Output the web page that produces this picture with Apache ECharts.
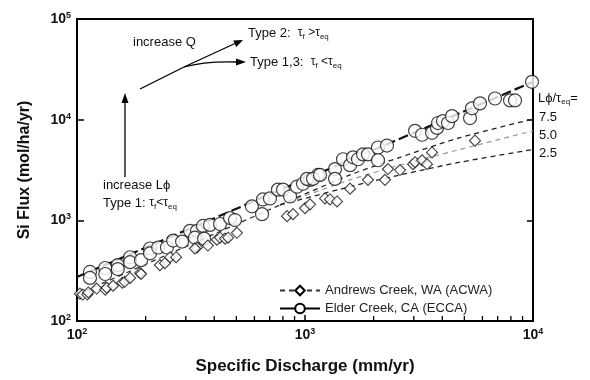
<!DOCTYPE html>
<html>
<head>
<meta charset="utf-8">
<script src="https://cdn.jsdelivr.net/npm/echarts@6/dist/echarts.min.js"></script>
<style>html,body{margin:0;padding:0;background:#fff;}#c{width:590px;height:380px;}</style>
</head>
<body>
<div id="c"></div>
<script>
// ---- data ----
const xMinorTicks = [200,300,400,500,600,700,800,900,2000,3000,4000,5000,6000,7000,8000,9000];

// Elder Creek, CA (ECCA) observations: [discharge mm/yr, Si flux mol/ha/yr]
const eccaPoints = [
  [114,307],[114,268],[133,336],[133,293],[151,359],[151,328],[171,430],[171,384],[191,402],
  [209,525],[209,470],[227,537],[248,537],[264,629],[289,615],[313,787],[336,787],[329,672],
  [357,880],[361,658],[383,900],[424,920],[469,1053],[493,1007],[585,1378],[648,1152],[654,1612],
  [702,1649],[761,2018],[801,2018],[860,1724],[922,2158],[980,2308],[1052,2524],[1140,2824],
  [1020,2582],[1084,2582],[1164,2824],[1354,3230],[1354,2582],[1468,4043],[1576,3534],[1624,4228],
  [1708,4043],[1797,4522],[1889,4522],[2090,5290],[2090,3953],[2289,5534],[3038,7745],[3261,7079],
  [3606,7405],[3793,8284],[3831,9267],[4030,9692],[4239,9267],[4413,10840],[5293,10366],[5401,12970],
  [5854,14510],[6813,16230],[7929,15520],[8340,15520],[9900,23760]
];

// Andrews Creek, WA (ACWA) observations
const acwaPoints = [
  [103,187],[106,183],[111,183],[112,192],[122,210],[133,205],[135,214],[144,224],[158,240],
  [162,245],[171,268],[189,300],[191,293],[231,359],[243,375],[256,430],[272,430],[336,537],
  [329,525],[375,562],[411,643],[424,672],[446,658],[460,672],[503,752],[834,1101],[886,1152],
  [1000,1318],[1052,1441],[1224,1649],[1287,1612],[1382,1541],[1576,2064],[1889,2524],[2243,2524],
  [2312,3230],[2611,3159],[2977,3614],[3038,3779],[3261,3953],[3428,3614],[3606,4729],[5568,6190]
];

// fitted / model curves
const eccaFit = [[100,274],[10000,23800]];
const acwaFit = [[100,183],[777,1422]];
const acwaFit75 = [[777,1422],[1576,2824],[2611,4228],[4784,6622],[10000,10135]];
const acwaFit50 = [[777,1422],[1576,2524],[2611,3534],[4784,5058],[10000,7745]];
const acwaFit25 = [[777,1422],[1576,2158],[2611,2824],[4784,3779],[10000,5058]];

const seriesNames = ['Andrews Creek, WA (ACWA)', 'Elder Creek, CA (ECCA)'];
const rightLabels = ['7.5', '5.0', '2.5'];

// ---- chart ----
const FONT = '"Liberation Sans", Arial, Helvetica, sans-serif';
const chart = echarts.init(document.getElementById('c'), null, {renderer: 'canvas'});

function expLabel(v) {
  const e = Math.round(Math.log10(v));
  return '{b|10}{s|' + e + '}';
}
const tickRich = {
  b: {fontSize: 14, fontWeight: 'bold', fontFamily: FONT, color: '#111', lineHeight: 16},
  s: {fontSize: 9, fontWeight: 'bold', fontFamily: FONT, color: '#111', verticalAlign: 'top', lineHeight: 10}
};
const subRich = {
  n: {fontSize: 13, fontFamily: FONT, color: '#111', lineHeight: 16},
  t: {fontSize: 12, fontFamily: FONT, color: '#111', lineHeight: 16},
  sub: {fontSize: 8, fontFamily: FONT, color: '#111', verticalAlign: 'bottom', lineHeight: 9}
};

const axisLine = {show: true, onZero: false, lineStyle: {color: '#000', width: 2}};

function txt(x, y, text, extra) {
  return {
    type: 'text', x: x, y: y, z: 100,
    style: Object.assign({
      text: text, fill: '#111', font: '13px ' + FONT,
      align: 'left', verticalAlign: 'middle', rich: subRich
    }, extra || {})
  };
}

const stroke = {stroke: '#000', lineWidth: 1.3, fill: null};

const option = {
  animation: false,
  backgroundColor: '#fff',
  grid: {left: 77, top: 19, right: 57, bottom: 53},
  legend: {
    orient: 'vertical', left: 274, top: 279, itemGap: 5,
    itemWidth: 40, itemHeight: 12,
    textStyle: {fontSize: 13, fontFamily: FONT, color: '#222'},
    data: [
      {name: seriesNames[0]},
      {name: seriesNames[1], lineStyle: {type: 'solid', width: 2, color: '#000'}}
    ]
  },
  xAxis: [
    {
      type: 'log', logBase: 10, min: 100, max: 10000, position: 'bottom',
      name: 'Specific Discharge (mm/yr)', nameLocation: 'middle', nameGap: 37,
      nameTextStyle: {fontSize: 17, fontWeight: 'bold', fontFamily: FONT, color: '#111'},
      axisLine: axisLine,
      axisTick: {show: true, inside: true, length: 6, lineStyle: {color: '#000', width: 1.5}},
      axisLabel: {formatter: expLabel, rich: tickRich, margin: 6},
      splitLine: {show: false}
    },
    {
      type: 'log', logBase: 10, min: 100, max: 10000, position: 'top',
      axisLine: axisLine, axisTick: {show: false}, axisLabel: {show: false}, splitLine: {show: false}
    }
  ],
  yAxis: [
    {
      type: 'log', logBase: 10, min: 100, max: 100000, position: 'left',
      name: 'Si Flux (mol/ha/yr)', nameLocation: 'middle', nameGap: 44,
      nameTextStyle: {fontSize: 16, fontWeight: 'bold', fontFamily: FONT, color: '#111'},
      axisLine: axisLine,
      axisTick: {show: true, inside: true, length: 7, lineStyle: {color: '#000', width: 1.5}},
      axisLabel: {formatter: expLabel, rich: tickRich, margin: 6},
      splitLine: {show: false}
    },
    {
      type: 'log', logBase: 10, min: 100, max: 100000, position: 'right',
      axisLine: axisLine,
      axisTick: {show: true, inside: true, length: 6, lineStyle: {color: '#000', width: 1.5}},
      axisLabel: {show: false}, splitLine: {show: false}
    }
  ],
  series: [
    {
      type: 'custom', name: 'minor ticks', silent: true, clip: false,
      data: xMinorTicks.map(v => [v, 100]),
      renderItem: function (params, api) {
        const p = api.coord([api.value(0), api.value(1)]);
        return {type: 'line', shape: {x1: p[0], y1: p[1], x2: p[0], y2: p[1] - 5},
                style: {stroke: '#000', lineWidth: 1.3}};
      }
    },
    {
      type: 'line', name: seriesNames[0], data: acwaFit, showSymbol: false,
      symbol: 'diamond', itemStyle: {color: '#fff', borderColor: '#000', borderWidth: 1},
      lineStyle: {color: '#333', width: 1.3, type: [5, 4]}, z: 2
    },
    {type: 'line', name: 'fit75', data: acwaFit75, showSymbol: false, smooth: 0.3,
     lineStyle: {color: '#222', width: 1.3, type: [5, 4]}, z: 2},
    {type: 'line', name: 'fit50', data: acwaFit50, showSymbol: false, smooth: 0.3,
     lineStyle: {color: '#999', width: 1.2, type: [5, 4]}, z: 2},
    {type: 'line', name: 'fit25', data: acwaFit25, showSymbol: false, smooth: 0.3,
     lineStyle: {color: '#222', width: 1.3, type: [5, 4]}, z: 2},
    {
      type: 'line', name: seriesNames[1], data: eccaFit, showSymbol: false,
      symbol: 'circle', itemStyle: {color: '#fff', borderColor: '#000', borderWidth: 1.2},
      lineStyle: {color: '#111', width: 2.2, type: [10, 4]}, z: 2
    },
    {
      type: 'scatter', name: 'ECCA obs', data: eccaPoints, symbol: 'circle', symbolSize: 13,
      itemStyle: {color: '#fff', borderColor: '#111', borderWidth: 1.2}, z: 3
    },
    {
      type: 'scatter', name: 'ACWA obs', data: acwaPoints, symbol: 'diamond', symbolSize: [11, 11],
      itemStyle: {color: '#fff', borderColor: '#111', borderWidth: 1.1}, z: 4
    }
  ],
  graphic: [
    // increase Q arrows
    {type: 'line', shape: {x1: 140, y1: 89, x2: 184, y2: 67}, style: stroke, z: 100},
    {type: 'line', shape: {x1: 184, y1: 67, x2: 236, y2: 43}, style: stroke, z: 100},
    {type: 'polygon', shape: {points: [[243, 40], [236.3, 47], [233.3, 40.6]]}, style: {fill: '#000'}, z: 100},
    {type: 'bezierCurve', shape: {x1: 184, y1: 67, cpx1: 205, cpy1: 61, x2: 237, y2: 62}, style: stroke, z: 100},
    {type: 'polygon', shape: {points: [[246, 62], [236, 58.5], [236, 65.5]]}, style: {fill: '#000'}, z: 100},
    // increase L phi arrow
    {type: 'line', shape: {x1: 125, y1: 177, x2: 125, y2: 100}, style: stroke, z: 100},
    {type: 'polygon', shape: {points: [[125, 93], [121.5, 103], [128.5, 103]]}, style: {fill: '#000'}, z: 100},
    txt(133, 42, 'increase Q'),
    txt(248, 33, '{n|Type 2:  }{t|τ}{sub|f}{t| >τ}{sub|eq}'),
    txt(250, 62, '{n|Type 1,3:  }{t|τ}{sub|f}{t| <τ}{sub|eq}'),
    txt(103, 185, 'increase Lϕ'),
    txt(103, 203, '{n|Type 1: }{t|τ}{sub|f}{t|<τ}{sub|eq}'),
    txt(538, 98, '{n|Lϕ/τ}{sub|eq}{n|=}'),
    txt(539, 117, rightLabels[0]),
    txt(539, 135, rightLabels[1]),
    txt(539, 153, rightLabels[2])
  ]
};
chart.setOption(option);
</script>
</body>
</html>
